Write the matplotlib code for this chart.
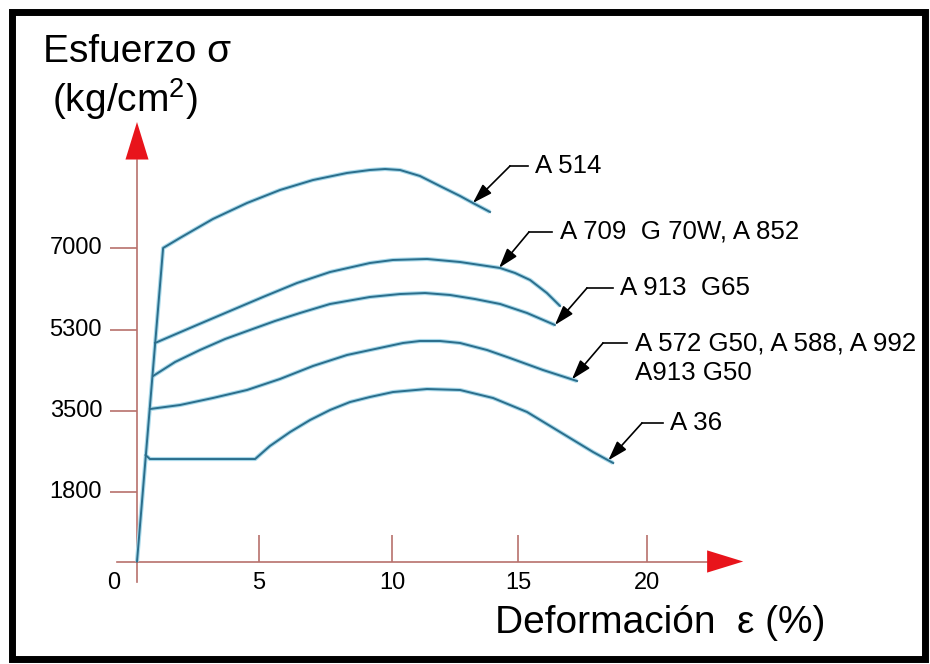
import numpy as np
import matplotlib.pyplot as plt
from matplotlib.patches import Rectangle
from matplotlib.lines import Line2D

plt.rcParams['font.family'] = ['Liberation Sans', 'DejaVu Sans']
plt.rcParams['mathtext.fontset'] = 'custom'
plt.rcParams['mathtext.rm'] = 'Liberation Sans'

# ---- data (strain %, stress kg/cm2) ----
x_ticks = [0, 5, 10, 15, 20]
y_ticks = [1800, 3500, 5300, 7000]

a514_x = [0, 1.07, 1.76, 3.11, 4.51, 5.79, 7.03, 8.31, 9.17, 9.74, 10.32, 11.11, 11.90, 12.70, 13.21, 13.89]
a514_y = [0, 7000, 7209, 7605, 7939, 8210, 8418, 8565, 8627, 8648, 8627, 8502, 8293, 8085, 7939, 7751]

a709_x = [0.74, 2.46, 3.81, 5.15, 6.43, 7.67, 9.17, 10.04, 11.39, 12.70, 14.29, 14.88, 15.47, 16.12, 16.63]
a709_y = [5002, 5394, 5686, 5978, 6270, 6499, 6687, 6750, 6771, 6708, 6583, 6479, 6332, 6061, 5790]

a913_x = [0.66, 1.56, 2.58, 3.61, 4.63, 5.60, 6.54, 7.67, 9.17, 10.32, 11.31, 12.30, 13.29, 14.29, 15.35, 16.43]
a913_y = [4273, 4582, 4847, 5090, 5289, 5477, 5644, 5832, 5978, 6040, 6061, 6020, 5936, 5832, 5644, 5394]

a572_x = [0.53, 1.76, 3.11, 4.51, 5.79, 7.03, 8.31, 9.36, 10.44, 11.11, 11.90, 12.70, 13.77, 14.68, 15.97, 17.29]
a572_y = [3544, 3632, 3787, 3964, 4207, 4494, 4737, 4869, 5002, 5046, 5046, 5002, 4847, 4670, 4405, 4162]

a36_x = [0.35, 0.53, 4.84, 5.41, 6.17, 6.92, 7.67, 8.42, 9.17, 10.04, 11.39, 12.70, 14.01, 15.35, 16.63, 17.91, 18.69]
a36_y = [2576, 2492, 2492, 2765, 3059, 3311, 3522, 3698, 3809, 3919, 3986, 3964, 3787, 3479, 3059, 2639, 2408]

labels = ['A 514', 'A 709  G 70W, A 852', 'A 913  G65', 'A 572 G50, A 588, A 992\nA913 G50', 'A 36']
curves = [(a514_x, a514_y), (a709_x, a709_y), (a913_x, a913_y), (a572_x, a572_y), (a36_x, a36_y)]

# ---- layout (pixels) ----
W, H = 930, 664
# the schematic has uneven tick spacing -> piecewise linear scales
XV = [-10, 0, 5, 10, 15, 20, 40]
XP = [-107, 137, 259, 392, 518, 647, 1163]
YV = [-5000, 0, 1800, 3500, 5300, 7000, 20000]
YP = [-90.6, 102.5, 172, 253, 334.5, 416, 1039.2]

tip_x = [13.21, 14.25, 16.43, 17.09, 18.5]
elbow = [(510, 166), (529, 232), (587, 288), (603, 343), (642, 423)]
hline_end = [528, 552, 613, 627, 663]
text_x = [535, 560, 620, 635, 670]

curve_c = '#2b6e8c'
glow_c = '#a9d9ea'
axis_c = '#b8716c'
head_c = '#e8141b'


def fx(px):
    return px / W


def fy(py):
    return 1 - py / H


def fwd_x(v):
    return np.interp(v, XV, XP)


def inv_x(p):
    return np.interp(p, XP, XV)


def fwd_y(v):
    return np.interp(v, YV, YP)


def inv_y(p):
    return np.interp(p, YP, YV)


fig = plt.figure(figsize=(9.3, 6.64), dpi=100)
ax = fig.add_axes([0, 0, 1, 1])
ax.set_xscale('function', functions=(fwd_x, inv_x))
ax.set_yscale('function', functions=(fwd_y, inv_y))

# curves
for xs, ys in curves:
    ax.plot(xs, ys, color=glow_c, lw=3.0, solid_capstyle='butt', solid_joinstyle='round', zorder=2)
    ax.plot(xs, ys, color=curve_c, lw=1.4, solid_joinstyle='round', zorder=3)

# axes lines, ticks, arrow heads
ax.plot([-0.82, 22.33], [0, 0], color=axis_c, lw=1.2, zorder=1)
ax.plot([0, 0], [-531, 8836], color=axis_c, lw=1.2, zorder=1)
ax.vlines(x_ticks[1:], 0, 686, color=axis_c, lw=1.2, zorder=1)
ax.hlines(y_ticks, -1.107, 0, color=axis_c, lw=1.2, zorder=1)
ax.annotate('', xy=(23.73, 0), xytext=(22.33, 0),
            arrowprops=dict(arrowstyle='-|>,head_length=26,head_width=8', mutation_scale=1,
                            color=head_c, lw=0, shrinkA=0, shrinkB=0))
ax.annotate('', xy=(0, 9628), xytext=(0, 8836),
            arrowprops=dict(arrowstyle='-|>,head_length=27,head_width=8.3', mutation_scale=1,
                            color=head_c, lw=0, shrinkA=0, shrinkB=0))

for v in y_ticks:
    ax.text(-1.43, v, str(v), ha='right', va='center', fontsize=17)
for v in x_ticks[1:]:
    ax.text(v, -557, str(v), ha='center', va='center', fontsize=17)
ax.text(-0.96, -557, '0', ha='center', va='center', fontsize=17)

# curve labels with leader arrows
for i, (xs, ys) in enumerate(curves):
    tx = tip_x[i]
    ty = np.interp(tx, xs, ys)
    ex, ey = elbow[i]
    ax.annotate('', xy=(tx, ty), xytext=(fx(ex), fy(ey)), textcoords='figure fraction',
                arrowprops=dict(arrowstyle='-|>,head_length=12,head_width=3.8', mutation_scale=1,
                                color='black', lw=1.2, shrinkA=0, shrinkB=0))
    fig.add_artist(Line2D([fx(ex), fx(hline_end[i])], [fy(ey), fy(ey)],
                          transform=fig.transFigure, color='black', lw=1.2))
    lines = labels[i].split('\n')
    for j, s in enumerate(lines):
        fig.text(fx(text_x[i]), fy(ey + 30 * j), s, ha='left', va='center', fontsize=18.6)

ax.set_xlim(inv_x(0), inv_x(W))
ax.set_ylim(inv_y(0), inv_y(H))
ax.set_axis_off()

# axis titles
fig.text(fx(43), fy(62), 'Esfuerzo σ', ha='left', va='baseline', fontsize=28)
fig.text(fx(52), fy(112), '(kg/cm$^2$)', ha='left', va='baseline', fontsize=28)
fig.text(fx(495), fy(633), 'Deformación  ε (%)', ha='left', va='baseline', fontsize=28)

# black frame
fig.add_artist(Rectangle((fx(11.5), fy(658.5)), fx(924.5) - fx(11.5), fy(11.5) - fy(658.5),
                         transform=fig.transFigure, fill=False, ec='black', lw=5))

fig.savefig('out.png', dpi=100, facecolor='white')
